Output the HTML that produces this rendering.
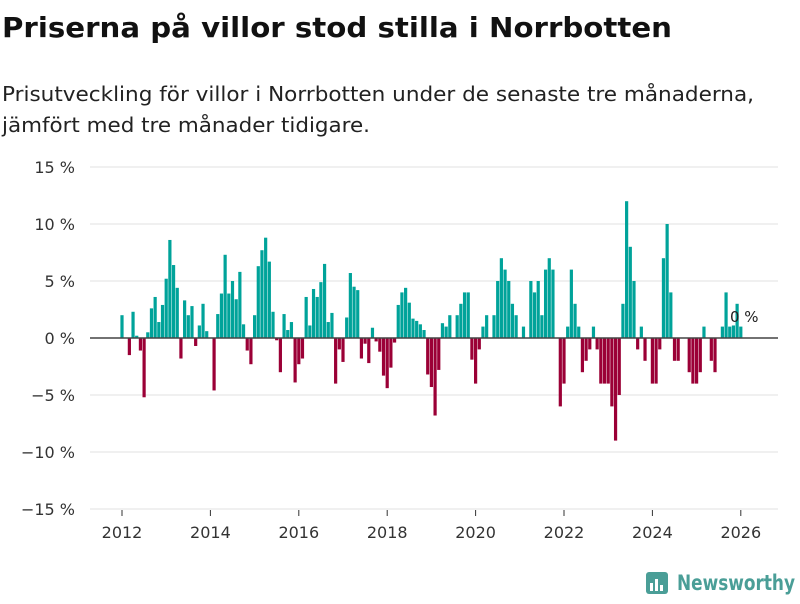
<!DOCTYPE html>
<html><head><meta charset="utf-8"><style>
body{margin:0;background:#fff;width:800px;height:600px;overflow:hidden;font-family:"DejaVu Sans","Liberation Sans",sans-serif}
</style></head><body>
<svg id="chart" width="800" height="600" xmlns="http://www.w3.org/2000/svg" font-family="DejaVu Sans, Liberation Sans, sans-serif">
<text x="2" y="37" font-size="28" font-weight="bold" fill="#111" textLength="670" lengthAdjust="spacingAndGlyphs">Priserna på villor stod stilla i Norrbotten</text>
<text x="2" y="101" font-size="20" fill="#222" textLength="752" lengthAdjust="spacingAndGlyphs">Prisutveckling för villor i Norrbotten under de senaste tre månaderna,</text>
<text x="2" y="132" font-size="20" fill="#222" textLength="368" lengthAdjust="spacingAndGlyphs">jämfört med tre månader tidigare.</text>
<g id="grid"></g><g id="bars"></g><g id="axes"></g>
<text x="730" y="322" font-size="15" fill="#222">0 %</text>
<g>
<rect x="646" y="572" width="22" height="22" rx="3" fill="#4a9e97"/>
<rect x="650" y="583" width="3" height="8" fill="#fff"/><rect x="655" y="579" width="3" height="12" fill="#fff"/><rect x="660" y="585" width="3" height="6" fill="#fff"/>
<text x="677" y="590" font-size="21" font-weight="bold" fill="#4a9e97" textLength="118" lengthAdjust="spacingAndGlyphs">Newsworthy</text>
</g>
</svg>
<script>
const startYear = 2012;
const values = [2.0,0,-1.5,2.3,0.2,-1.1,-5.2,0.5,2.6,3.6,1.4,2.9,
5.2,8.6,6.4,4.4,-1.8,3.3,2.0,2.8,-0.7,1.1,3.0,0.6,
0,-4.6,2.1,3.9,7.3,3.9,5.0,3.4,5.8,1.2,-1.1,-2.3,
2.0,6.3,7.7,8.8,6.7,2.3,-0.2,-3.0,2.1,0.7,1.4,-3.9,
-2.3,-1.8,3.6,1.1,4.3,3.6,4.9,6.5,1.4,2.2,-4.0,-1.0,
-2.1,1.8,5.7,4.5,4.2,-1.8,-0.5,-2.2,0.9,-0.3,-1.2,-3.3,
-4.4,-2.6,-0.4,2.9,4.0,4.4,3.1,1.7,1.5,1.2,0.7,-3.2,
-4.3,-6.8,-2.8,1.3,1.0,2.0,0,2.0,3.0,4.0,4.0,-1.9,
-4.0,-1.0,1.0,2.0,0,2.0,5.0,7.0,6.0,5.0,3.0,2.0,
0,1.0,0,5.0,4.0,5.0,2.0,6.0,7.0,6.0,0,-6.0,
-4.0,1.0,6.0,3.0,1.0,-3.0,-2.0,-1.0,1.0,-1.0,-4.0,-4.0,
-4.0,-6.0,-9.0,-5.0,3.0,12.0,8.0,5.0,-1.0,1.0,-2.0,0,
-4.0,-4.0,-1.0,7.0,10.0,4.0,-2.0,-2.0,0,0,-3.0,-4.0,
-4.0,-3.0,1.0,0,-2.0,-3.0,0,1.0,4.0,1.0,1.1,3.0,1.0];
const yTicks = [15,10,5,0,-5,-10,-15];
const yTickLabels = ["15 %","10 %","5 %","0 %","−5 %","−10 %","−15 %"];
const xTicks = [2012,2014,2016,2018,2020,2022,2024,2026];

const NS="http://www.w3.org/2000/svg";
function xScale(yearFrac){return 122+(yearFrac-2012)*44.2;}
function yScale(v){return 338-v*11.4;}
function mk(tag,attrs,parent){const e=document.createElementNS(NS,tag);for(const k in attrs)e.setAttribute(k,attrs[k]);parent.appendChild(e);return e;}
const grid=document.getElementById('grid'),bars=document.getElementById('bars'),axes=document.getElementById('axes');
yTicks.forEach((t,i)=>{
  if(t!==0){const l=mk('line',{x1:90,x2:778,y1:yScale(t),y2:yScale(t),stroke:'#e0e0e0','stroke-width':1},grid);
  
  }
  const tx=mk('text',{x:75,y:yScale(t)+6,'font-size':16,fill:'#333','text-anchor':'end'},axes);
  tx.textContent=yTickLabels[i];
  
  
});
values.forEach((v,k)=>{
  if(v===0)return;
  const cx=xScale(startYear+k/12);
  const y0=yScale(0),y1=yScale(v);
  const r=mk('rect',{x:cx-1.6,y:Math.min(y0,y1),width:3.2,height:Math.abs(y1-y0),fill:v>0?'#00a39a':'#9b0036'},bars);
  
  
});
const zl=mk('line',{x1:90,x2:778,y1:yScale(0),y2:yScale(0),stroke:'#444','stroke-width':1.5},axes);


xTicks.forEach(t=>{
  const x=xScale(t);
  const tk=mk('line',{x1:x,x2:x,y1:510,y2:516,stroke:'#333','stroke-width':1},axes);
  
  
  const tx=mk('text',{x:x,y:538,'font-size':16,fill:'#333','text-anchor':'middle'},axes);
  tx.textContent=t;
  
  
});
</script>
</body></html>
